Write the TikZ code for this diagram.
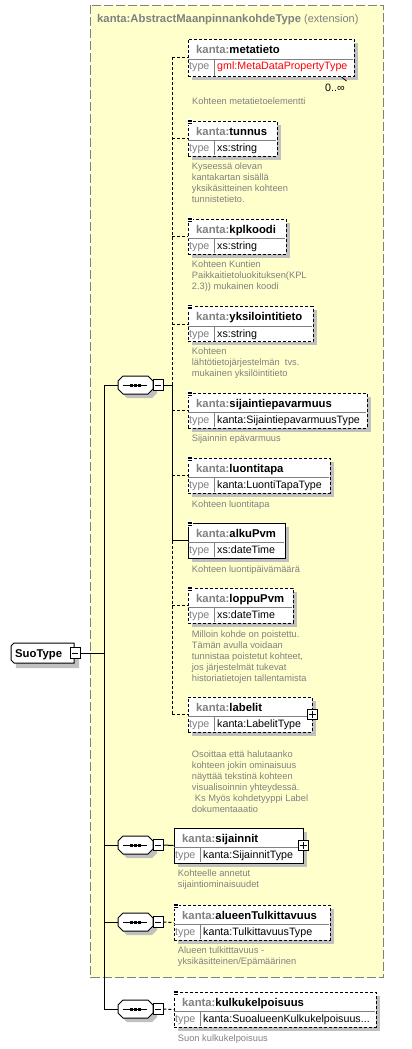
\documentclass[tikz,border=0pt]{standalone}
\usepackage{fontspec}
\setmainfont{Liberation Sans}
\usetikzlibrary{calc}
\definecolor{kgray}{HTML}{808080}
\definecolor{shadowc}{HTML}{C0C0C0}
\definecolor{ybg}{HTML}{FFFFCC}
\definecolor{typered}{HTML}{FF0000}
\tikzset{
  optbox/.style={draw=black, fill=white, line width=1pt, dash pattern=on 3pt off 2pt, inner sep=0, anchor=north west},
  reqbox/.style={draw=black, fill=white, line width=1pt, inner sep=0, anchor=north west},
  hdr/.style={font=\fontsize{11.3}{13}\selectfont\bfseries, inner sep=0, anchor=base west},
  typ/.style={font=\fontsize{10.7}{13}\selectfont, inner sep=0, anchor=base west},
  desc/.style={font=\fontsize{9.3}{11}\selectfont, text=kgray, inner sep=0, anchor=north west, align=left},
  conn/.style={draw=black, line width=1pt},
  optconn/.style={conn, dash pattern=on 3pt off 2pt},
  divl/.style={draw=kgray, line width=0.8pt},
  smallbox/.style={draw=black, fill=white, line width=0.8pt, inner sep=0},
  ybox/.style={draw=kgray, fill=ybg, line width=1.2pt, dash pattern=on 9pt off 3pt},
}
% element box: #1 name, #2 x, #3 top, #4 width, #5 height, #6 style, #7 element, #8 type, #9 type colour
\newcommand{\xel}[9]{%
  \fill[shadowc] (#2+4.5,#3+4) rectangle (#2+#4+4.5,#3+#5+4);
  \node[#6, minimum width=#4pt, minimum height=#5pt] (#1) at (#2,#3) {};
  \draw[divl] (#2+0.5,#3+20) -- (#2+#4-0.5,#3+20);
  \draw[divl] (#2+27,#3+20) -- (#2+27,#3+#5-0.5);
  \node[hdr] (#1-name) at (#2+8.5,#3+14.5) {\textcolor{kgray}{kanta:}#7};
  \node[typ, text=kgray] (#1-tlab) at (#2+1.5,#3+31) {type};
  \node[typ, text=#9] (#1-type) at (#2+29.5,#3+31) {#8};
}
\newcommand{\docicon}[2]{%
  \fill[white] (#1-0.5,#2-1.3) rectangle (#1+5.5,#2+4);
  \draw[line width=0.6pt] (#1,#2-0.5) -- (#1+4.8,#2-0.5) (#1,#2+1.1) -- (#1+4.2,#2+1.1) (#1,#2+2.7) -- (#1+4.2,#2+2.7);
}
% sequence compositor: #1 name, #2 cx, #3 cy
\newcommand{\xseq}[3]{%
  \fill[shadowc] (#2-12.5+4,#3-9+4) -- (#2+12.5+4,#3-9+4) -- (#2+17.5+4,#3-4+4) -- (#2+17.5+4,#3+4+4) -- (#2+12.5+4,#3+9+4) -- (#2-12.5+4,#3+9+4) -- (#2-17.5+4,#3+4+4) -- (#2-17.5+4,#3-4+4) -- cycle;
  \node[inner sep=0, minimum width=35pt, minimum height=18pt] (#1) at (#2,#3) {};
  \draw[line width=1pt, fill=white] (#2-12.5,#3-9) -- (#2+12.5,#3-9) -- (#2+17.5,#3-4) -- (#2+17.5,#3+4) -- (#2+12.5,#3+9) -- (#2-12.5,#3+9) -- (#2-17.5,#3+4) -- (#2-17.5,#3-4) -- cycle;
  \draw[line width=1pt] (#2-12.2,#3) -- (#2+11.8,#3);
  \fill (#2-5.5,#3-1.5) rectangle (#2-2.5,#3+1.5);
  \fill (#2-1.5,#3-1.5) rectangle (#2+1.5,#3+1.5);
  \fill (#2+2.5,#3-1.5) rectangle (#2+5.5,#3+1.5);
  \node[smallbox, minimum width=10pt, minimum height=11pt] (#1m) at (#2+22.5,#3) {};
  \draw[line width=0.8pt] (#2+19.5,#3) -- (#2+25.5,#3);
}
\begin{document}
\begin{tikzpicture}[x=1pt,y=-1pt]
\useasboundingbox (0,0) rectangle (412,1049);
% extension frame
\draw[ybox] (90.5,5.5) rectangle (383.5,977.5);
\node[anchor=base west, inner sep=0, font=\fontsize{11}{13}\selectfont, text=kgray] (title) at (97,23)
  {{\fontsize{11.3}{13}\selectfont\bfseries kanta:AbstractMaanpinnankohdeType} (extension)};

% root element
\fill[shadowc] (15,648) -- (79,648) -- (79,668) -- (15,668) -- (16,668) -- cycle;
\node[inner sep=0, minimum width=63pt, minimum height=20pt, anchor=north west] (suo) at (11,643) {};
\draw[line width=1pt, fill=white] (14,643) -- (74,643) -- (74,663) -- (14,663) -- (11,660) -- (11,646) -- cycle;
\node[anchor=base west, inner sep=0, font=\fontsize{11.3}{13}\selectfont\bfseries] (suotext) at (15,657.5) {SuoType};
\node[smallbox, minimum width=10pt, minimum height=11pt] (suom) at (75,653) {};
\draw[line width=0.8pt] (72,653) -- (78,653);

% compositors
\xseq{seq1}{135.5}{385}
\xseq{seq2}{135.5}{845}
\xseq{seq3}{135.5}{922}
\xseq{seq4}{135.5}{1009}

% elements
\xel{meta}{187.5}{39}{166}{37}{optbox}{metatieto}{gml:MetaDataPropertyType}{typered}
\xel{tunnus}{187.5}{120.5}{89}{35}{optbox}{tunnus}{xs:string}{black}
\xel{kpl}{187.5}{218.5}{98}{35}{optbox}{kplkoodi}{xs:string}{black}
\xel{yksi}{187.5}{306}{125}{35}{optbox}{yksilointitieto}{xs:string}{black}
\xel{sijep}{187.5}{392.5}{179}{35}{optbox}{sijaintiepavarmuus}{kanta:SijaintiepavarmuusType}{black}
\xel{luonti}{187.5}{457.5}{142}{35}{optbox}{luontitapa}{kanta:LuontiTapaType}{black}
\xel{alku}{187.5}{522.5}{97}{35}{reqbox}{alkuPvm}{xs:dateTime}{black}
\xel{loppu}{187.5}{587.5}{105}{35}{optbox}{loppuPvm}{xs:dateTime}{black}
\xel{labelit}{187.5}{696.5}{124}{35}{optbox}{labelit}{kanta:LabelitType}{black}
\xel{sijainnit}{173.5}{827.5}{129}{35}{reqbox}{sijainnit}{kanta:SijainnitType}{black}
\xel{alueen}{173.5}{904.5}{156}{35}{optbox}{alueenTulkittavuus}{kanta:TulkittavuusType}{black}
\xel{kulku}{173.5}{991.5}{202}{35}{optbox}{kulkukelpoisuus}{kanta:SuoalueenKulkukelpoisuus...}{black}

% documentation icons
\docicon{187.5}{120.5}
\docicon{187.5}{218.5}
\docicon{187.5}{306}
\docicon{187.5}{392.5}
\docicon{187.5}{457.5}
\docicon{187.5}{522.5}
\docicon{187.5}{587.5}
\docicon{173.5}{904.5}
\docicon{173.5}{991.5}

% expand boxes
\node[smallbox, minimum width=10pt, minimum height=10pt] (labelitp) at (labelit.east) {};
\draw[line width=0.8pt] ($(labelitp.center)+(-3.5,0)$) -- ($(labelitp.center)+(3.5,0)$) ($(labelitp.center)+(0,-3.5)$) -- ($(labelitp.center)+(0,3.5)$);
\node[smallbox, minimum width=10pt, minimum height=10pt] (sijainnitp) at (sijainnit.east) {};
\draw[line width=0.8pt] ($(sijainnitp.center)+(-3.5,0)$) -- ($(sijainnitp.center)+(3.5,0)$) ($(sijainnitp.center)+(0,-3.5)$) -- ($(sijainnitp.center)+(0,3.5)$);

% multiplicity
\node[typ, text=black] (mult) at (325,91.5) {0..∞};
\draw[line width=0.8pt] ($(meta.south east)+(-13,0)$) -- ($(meta.south east)+(-8,4)$);

% descriptions
\node[desc] (d-meta) at (192,98) {Kohteen metatietoelementti};
\node[desc] (d-tunnus) at (191.7,163) {Kyseessä olevan\\kantakartan sisällä\\yksikäsitteinen kohteen\\tunnistetieto.};
\node[desc] (d-kpl) at (191.7,261) {Kohteen Kuntien\\Paikkaitietoluokituksen(KPL\\2.3)) mukainen koodi};
\node[desc] (d-yksi) at (191.7,348) {Kohteen\\lähtötietojärjestelmän\ \ tvs.\\mukainen yksilöintitieto};
\node[desc] (d-sijep) at (191.7,435) {Sijainnin epävarmuus};
\node[desc] (d-luonti) at (191.7,501) {Kohteen luontitapa};
\node[desc] (d-alku) at (191.7,566) {Kohteen luontipäivämäärä};
\node[desc] (d-loppu) at (191.7,631) {Milloin kohde on poistettu.\\Tämän avulla voidaan\\tunnistaa poistetut kohteet,\\jos järjestelmät tukevat\\historiatietojen tallentamista};
\node[desc] (d-labelit) at (191.7,751) {Osoittaa että halutaanko\\kohteen jokin ominaisuus\\näyttää tekstinä kohteen\\visualisoinnin yhteydessä.\\\hspace*{3pt}Ks Myös kohdetyyppi Label\\dokumentaaatio};
\node[desc] (d-sijainnit) at (177.7,870) {Kohteelle annetut\\sijaintiominaisuudet};
\node[desc] (d-alueen) at (177.7,947) {Alueen tulkitttavuus -\\yksikäsitteinen/Epämäärinen};
\node[desc] (d-kulku) at (177.7,1035) {Suon kulkukelpoisuus};

% trunk connectors
\coordinate (t1) at (104,385);
\coordinate (t4) at (104,1009);
\draw[conn] (suom.east) -- (suom.east -| t1);
\draw[conn] (seq1.west) -- (t1) -- (t4) -- (seq4.west);
\draw[conn] (t1 |- seq2.west) -- (seq2.west);
\draw[conn] (t1 |- seq3.west) -- (seq3.west);
\draw[conn] (seq2m.east) -- (sijainnit.west);
\draw[optconn] (seq3m.east) -- (alueen.west);
\draw[optconn] (seq4m.east) -- (kulku.west);

% sequence 1 children
\coordinate (j1) at (172,385);
\draw[conn] (seq1m.east) -- (j1);
\draw[conn] (j1) -- (j1 |- alku.west) -- (alku.west);
\draw[optconn] (j1) -- (j1 |- meta.west);
\draw[optconn] (j1 |- alku.west) -- (j1 |- labelit.west);
\draw[optconn] (j1 |- meta.west) -- (meta.west);
\draw[optconn] (j1 |- tunnus.west) -- (tunnus.west);
\draw[optconn] (j1 |- kpl.west) -- (kpl.west);
\draw[optconn] (j1 |- yksi.west) -- (yksi.west);
\draw[optconn] (j1 |- sijep.west) -- (sijep.west);
\draw[optconn] (j1 |- luonti.west) -- (luonti.west);
\draw[optconn] (j1 |- loppu.west) -- (loppu.west);
\draw[optconn] (j1 |- labelit.west) -- (labelit.west);
\end{tikzpicture}
\end{document}
